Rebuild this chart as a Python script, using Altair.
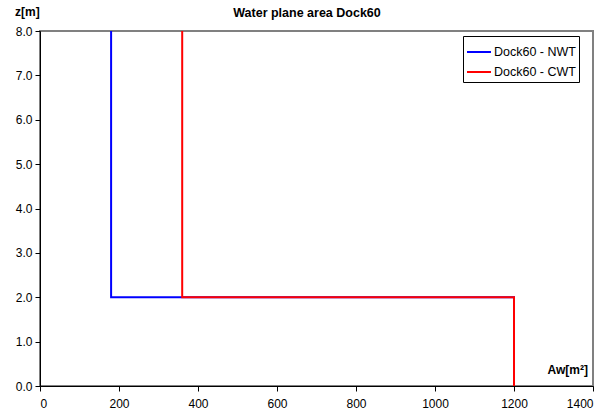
import altair as alt
import pandas as pd

series_names = ["Dock60 - NWT", "Dock60 - CWT"]
series_colors = ["#0000FF", "#FF0000"]
nwt_aw = [1200, 1200, 180, 180]
nwt_z = [0.0, 2.0, 2.0, 8.0]
cwt_aw = [1200, 1200, 360, 360]
cwt_z = [0.0, 2.0, 2.0, 8.0]
x_ticks = [0, 200, 400, 600, 800, 1000, 1200, 1400]
y_ticks = [0, 1, 2, 3, 4, 5, 6, 7, 8]

rows = []
for name, aws, zs in [(series_names[0], nwt_aw, nwt_z), (series_names[1], cwt_aw, cwt_z)]:
    for i, (a, z) in enumerate(zip(aws, zs)):
        rows.append({"series": name, "Aw": a, "z": z, "order": i})
df = pd.DataFrame(rows)

FONT = "Liberation Sans"

lines = alt.Chart(df).mark_line(strokeWidth=2, clip=True).encode(
    x=alt.X("Aw:Q", scale=alt.Scale(domain=[0, 1400], nice=False),
            axis=alt.Axis(values=x_ticks, format="d", title=None, grid=False, domainColor="black",
                          tickColor="black", tickSize=5, labelFontSize=12, labelColor="black",
                          labelFont=FONT, labelPadding=7, domainWidth=1)),
    y=alt.Y("z:Q", scale=alt.Scale(domain=[0, 8], nice=False),
            axis=alt.Axis(values=y_ticks, format=".1f", title=None, grid=False, domainColor="black",
                          tickColor="black", tickSize=5, labelFontSize=12, labelColor="black",
                          labelFont=FONT, labelPadding=3, domainWidth=1)),
    color=alt.Color("series:N", scale=alt.Scale(domain=series_names, range=series_colors),
                    legend=alt.Legend(title=None, orient="none", legendX=423, legendY=5,
                                      symbolType="stroke", symbolSize=576, symbolStrokeWidth=2,
                                      labelFontSize=12.5, labelFont=FONT, labelColor="black",
                                      fillColor="white", strokeColor="black", padding=3,
                                      rowPadding=-4, labelOffset=2)),
    detail="series:N",
    order="order:Q",
)

zlabel = alt.Chart(pd.DataFrame({"t": ["z[m]"]})).mark_text(
    fontWeight="bold", fontSize=12, font=FONT, align="left", baseline="middle"
).encode(x=alt.value(-25), y=alt.value(-19), text="t:N")

awlabel = alt.Chart(pd.DataFrame({"t": ["Aw[m²]"]})).mark_text(
    fontWeight="bold", fontSize=12, font=FONT, align="right", baseline="middle"
).encode(x=alt.value(548), y=alt.value(339), text="t:N")

title = alt.Chart(pd.DataFrame({"t": ["Water plane area Dock60"]})).mark_text(
    fontWeight="bold", fontSize=12.5, font=FONT, align="center", baseline="middle"
).encode(x=alt.value(267), y=alt.value(-18), text="t:N")

chart = alt.layer(lines, zlabel, awlabel, title).properties(
    width=553, height=355,
    padding={"left": 40, "top": 31, "right": 20, "bottom": 26},
    autosize=alt.AutoSizeParams(type="none"),
    background="white",
).configure_view(stroke="#808080", strokeWidth=2)

chart.save("out.html", embed_options={"renderer": "svg", "actions": False})
